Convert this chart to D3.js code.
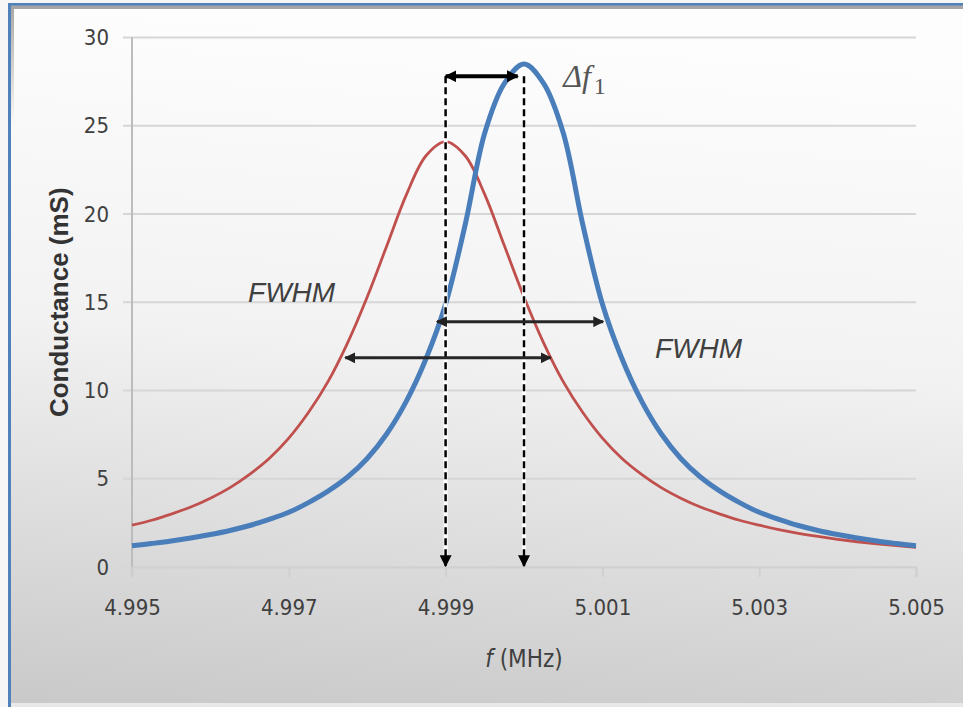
<!DOCTYPE html>
<html>
<head>
<meta charset="utf-8">
<script src="https://cdnjs.cloudflare.com/ajax/libs/d3/7.8.5/d3.min.js"></script>
<style>
  body { margin: 0; background: #f6f6f6; }
  svg { display: block; }
  .cond { font-family: 'DejaVu Sans', sans-serif; font-stretch: condensed; }
</style>
</head>
<body>
<div id="chart"></div>
<script>
// frequency grid (MHz)
var freqs = [4.995, 4.99525, 4.9955, 4.99575, 4.996, 4.99625, 4.9965, 4.99675, 4.997, 4.99725,
             4.9975, 4.99775, 4.998, 4.99825, 4.9985, 4.99875, 4.999, 4.99925, 4.9995, 4.99975,
             5.000, 5.00025, 5.0005, 5.00075, 5.001, 5.00125, 5.0015, 5.00175, 5.002, 5.00225,
             5.0025, 5.00275, 5.003, 5.00325, 5.0035, 5.00375, 5.004, 5.00425, 5.0045, 5.00475, 5.005];

// conductance (mS), blue curve
var blueG = [1.2, 1.33, 1.47, 1.64, 1.84, 2.07, 2.35, 2.7, 3.1, 3.65,
             4.3, 5.1, 6.15, 7.55, 9.4, 11.8, 14.9, 19.4, 24.6, 27.4,
             28.5, 27.4, 24.6, 19.4, 14.9, 11.8, 9.4, 7.55, 6.15, 5.1,
             4.3, 3.65, 3.1, 2.7, 2.35, 2.07, 1.84, 1.64, 1.47, 1.33, 1.2];

// conductance (mS), red curve
var redG = [2.37, 2.65, 3.0, 3.4, 3.9, 4.5, 5.25, 6.15, 7.3, 8.75,
            10.5, 12.7, 15.3, 18.2, 21.1, 23.3, 24.1, 23.3, 21.1, 18.2,
            15.3, 12.7, 10.5, 8.75, 7.3, 6.15, 5.25, 4.5, 3.9, 3.4,
            3.0, 2.65, 2.37, 2.12, 1.91, 1.73, 1.57, 1.43, 1.31, 1.21, 1.11];

var xTicks = [4.995, 4.997, 4.999, 5.001, 5.003, 5.005];
var yTicks = [0, 5, 10, 15, 20, 25, 30];

// annotations (data space)
var peakFreqs = [4.999, 5.000];
var peakArrowTop = 27.8;
var deltaArrow = {x1: 4.999, x2: 4.99992, y: 27.8};
var fwhmArrows = [
  {x1: 4.99889, x2: 5.00101, y: 13.9},
  {x1: 4.99772, x2: 5.00034, y: 11.85}
];
var fwhmLabels = [
  {x: 4.99648, y: 15.0},
  {x: 5.00167, y: 11.85}
];
var deltaLabel = {x: 5.0005, y: 27.2};

var W = 963, H = 707;
var margin = {top: 37.5, right: 47, bottom: 140, left: 132};

var svg = d3.select("#chart").append("svg")
    .attr("width", W)
    .attr("height", H);

var defs = svg.append("defs");
var grad = defs.append("linearGradient")
    .attr("id", "bg")
    .attr("x1", "0.1").attr("y1", "0")
    .attr("x2", "0").attr("y2", "1");
grad.append("stop").attr("offset", "0").attr("stop-color", "#fdfdfd");
grad.append("stop").attr("offset", "0.45").attr("stop-color", "#f2f2f2");
grad.append("stop").attr("offset", "1").attr("stop-color", "#c9c9c9");

var sideGrad = defs.append("linearGradient")
    .attr("id", "side")
    .attr("x1", "0").attr("y1", "0")
    .attr("x2", "0").attr("y2", "1");
sideGrad.append("stop").attr("offset", "0").attr("stop-color", "#a6a6a6").attr("stop-opacity", 1);
sideGrad.append("stop").attr("offset", "1").attr("stop-color", "#a6a6a6").attr("stop-opacity", 0);

// arrow markers
function addMarker(id, size, color) {
  defs.append("marker")
      .attr("id", id)
      .attr("viewBox", "0 0 10 10")
      .attr("refX", 9).attr("refY", 5)
      .attr("markerWidth", size).attr("markerHeight", size)
      .attr("markerUnits", "userSpaceOnUse")
      .attr("orient", "auto-start-reverse")
    .append("path")
      .attr("d", "M0,0 L10,5 L0,10 Z")
      .attr("fill", color);
}
addMarker("arrDark", 11, "#222");
addMarker("arrBlack", 12, "#000");

// panel background and frame
svg.append("rect").attr("x", 0).attr("y", 0).attr("width", W).attr("height", H).attr("fill", "#f6f6f6");
svg.append("rect").attr("x", 8).attr("y", 3).attr("width", W - 8).attr("height", 700).attr("fill", "url(#bg)");
svg.append("rect").attr("x", 8).attr("y", 703).attr("width", W - 8).attr("height", 4).attr("fill", "#e8e8e8");
svg.append("rect").attr("x", 8).attr("y", 5).attr("width", W - 8).attr("height", 4).attr("fill", "#a6a6a6");
svg.append("rect").attr("x", 11).attr("y", 5).attr("width", 3).attr("height", 120).attr("fill", "url(#side)");
svg.append("rect").attr("x", 8).attr("y", 3).attr("width", W - 8).attr("height", 2.5).attr("fill", "#4f81bd");
svg.append("rect").attr("x", 8).attr("y", 3).attr("width", 3).attr("height", 704).attr("fill", "#4f81bd");

var x = d3.scaleLinear().domain([4.995, 5.005]).range([margin.left, W - margin.right]);
var y = d3.scaleLinear().domain([0, 30]).range([H - margin.bottom, margin.top]);

// gridlines
svg.append("g")
    .selectAll("line")
    .data(yTicks)
    .enter().append("line")
    .attr("x1", x(4.995) - 9).attr("x2", x(5.005))
    .attr("y1", function(d){ return y(d); })
    .attr("y2", function(d){ return y(d); })
    .attr("stroke", "#d6d6d6")
    .attr("stroke-width", 2);

// y axis
var yAxis = svg.append("g")
    .attr("transform", "translate(" + x(4.995) + ",0)")
    .call(d3.axisLeft(y).tickValues(yTicks).tickSize(0).tickPadding(23));
yAxis.select(".domain").remove();
yAxis.selectAll("text")
    .attr("class", "cond")
    .attr("font-size", 22)
    .attr("fill", "#404040");
svg.append("line")
    .attr("x1", x(4.995)).attr("x2", x(4.995))
    .attr("y1", y(30)).attr("y2", y(0) + 10)
    .attr("stroke", "#bcbcbc").attr("stroke-width", 2);

// x axis
var xAxis = svg.append("g")
    .attr("transform", "translate(0," + y(0) + ")")
    .call(d3.axisBottom(x).tickValues(xTicks).tickFormat(d3.format(".3f")).tickSize(10).tickPadding(22));
xAxis.select(".domain").attr("stroke", "#d0d0d0").attr("stroke-width", 2);
xAxis.selectAll(".tick line").attr("stroke", "#d0d0d0").attr("stroke-width", 2);
xAxis.selectAll("text")
    .attr("class", "cond")
    .attr("font-size", 22)
    .attr("fill", "#404040");

// axis titles
svg.append("text")
    .attr("transform", "translate(68," + ((y(0) + y(30)) / 2) + ") rotate(-90)")
    .attr("text-anchor", "middle")
    .attr("font-family", "'Liberation Sans', Arial, sans-serif")
    .attr("font-weight", "bold")
    .attr("font-size", 26)
    .attr("fill", "#333")
    .text("Conductance (mS)");

var xt = svg.append("text")
    .attr("class", "cond")
    .attr("x", (x(4.995) + x(5.005)) / 2)
    .attr("y", 667)
    .attr("text-anchor", "middle")
    .attr("font-size", 24)
    .attr("fill", "#404040");
xt.append("tspan").attr("font-style", "italic").text("f");
xt.append("tspan").text(" (MHz)");

// curves
var line = d3.line()
    .x(function(d){ return x(d[0]); })
    .y(function(d){ return y(d[1]); })
    .curve(d3.curveCatmullRom.alpha(0.5));

svg.append("path")
    .datum(d3.zip(freqs, redG))
    .attr("d", line)
    .attr("fill", "none")
    .attr("stroke", "#c0504d")
    .attr("stroke-width", 2.8);

svg.append("path")
    .datum(d3.zip(freqs, blueG))
    .attr("d", line)
    .attr("fill", "none")
    .attr("stroke", "#4a7ebb")
    .attr("stroke-width", 5);

// dashed peak markers
var peaks = svg.append("g");
peaks.selectAll("line.halo")
    .data(peakFreqs)
    .enter().append("line")
    .attr("class", "halo")
    .attr("x1", function(d){ return x(d); }).attr("x2", function(d){ return x(d); })
    .attr("y1", y(peakArrowTop)).attr("y2", y(0) - 12)
    .attr("stroke", "#fff").attr("stroke-width", 4);
peaks.selectAll("line.dash")
    .data(peakFreqs)
    .enter().append("line")
    .attr("class", "dash")
    .attr("x1", function(d){ return x(d); }).attr("x2", function(d){ return x(d); })
    .attr("y1", y(peakArrowTop)).attr("y2", y(0) - 1)
    .attr("stroke", "#000").attr("stroke-width", 2.5)
    .attr("stroke-dasharray", "7,4")
    .attr("marker-end", "url(#arrBlack)");

// delta f arrow
svg.append("line")
    .attr("x1", x(deltaArrow.x1)).attr("x2", x(deltaArrow.x2))
    .attr("y1", y(deltaArrow.y)).attr("y2", y(deltaArrow.y))
    .attr("stroke", "#000").attr("stroke-width", 4)
    .attr("marker-start", "url(#arrBlack)")
    .attr("marker-end", "url(#arrBlack)");

// FWHM arrows
svg.append("g").selectAll("line")
    .data(fwhmArrows)
    .enter().append("line")
    .attr("x1", function(d){ return x(d.x1); }).attr("x2", function(d){ return x(d.x2); })
    .attr("y1", function(d){ return y(d.y); }).attr("y2", function(d){ return y(d.y); })
    .attr("stroke", "#262626").attr("stroke-width", 3)
    .attr("marker-start", "url(#arrDark)")
    .attr("marker-end", "url(#arrDark)");

// labels
svg.append("g").selectAll("text")
    .data(fwhmLabels)
    .enter().append("text")
    .attr("x", function(d){ return x(d.x); })
    .attr("y", function(d){ return y(d.y); })
    .attr("font-family", "'Liberation Sans', Arial, sans-serif")
    .attr("font-style", "italic")
    .attr("font-size", 28)
    .attr("fill", "#404040")
    .text("FWHM");

var dl = svg.append("text")
    .attr("x", x(deltaLabel.x))
    .attr("y", y(deltaLabel.y))
    .attr("font-family", "'Liberation Serif', 'Times New Roman', serif")
    .attr("font-size", 32)
    .attr("fill", "#555");
dl.append("tspan").attr("font-style", "italic").text("Δf");
dl.append("tspan").attr("font-size", 24).attr("dy", 7).attr("dx", 3).text("1");
</script>
</body>
</html>
